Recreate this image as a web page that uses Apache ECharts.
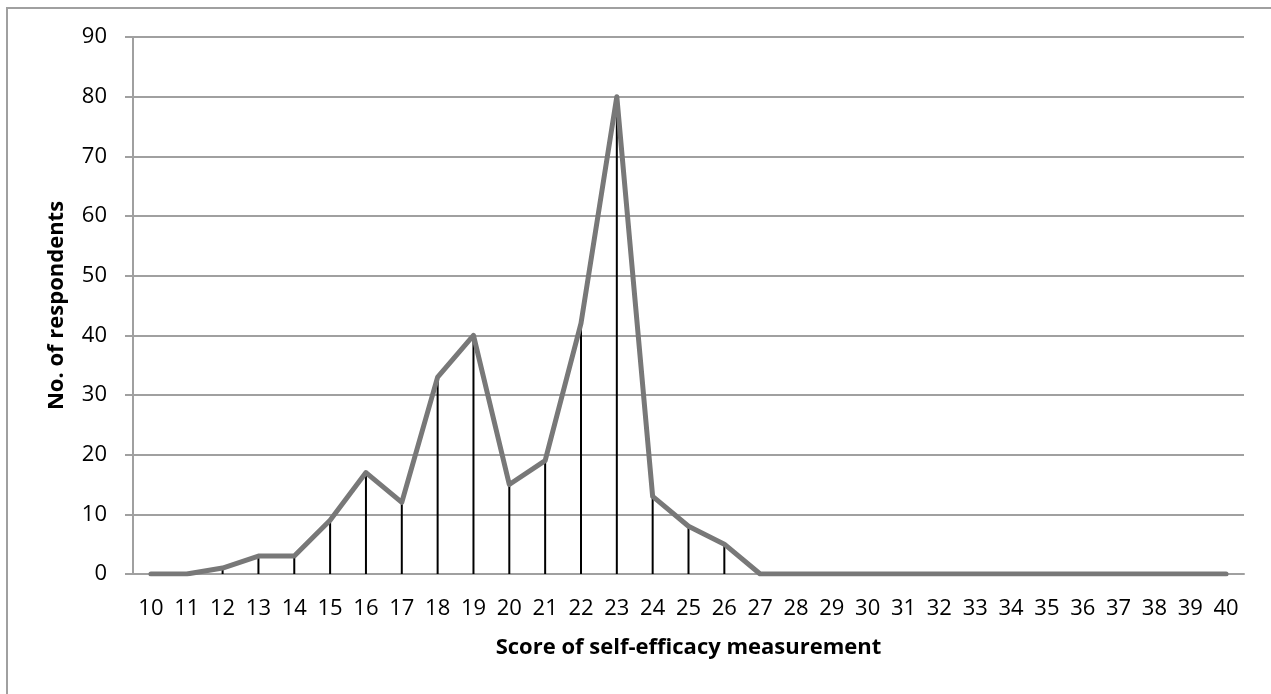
<!DOCTYPE html>
<html>
<head>
<meta charset="utf-8">
<script src="https://cdn.jsdelivr.net/npm/echarts@6/dist/echarts.min.js"></script>
<style>html,body{margin:0;padding:0;background:#fff;}#c{width:1271px;height:694px;}</style>
</head>
<body>
<div id="c"></div>
<script>
const scores = ['10','11','12','13','14','15','16','17','18','19','20','21','22','23','24','25','26','27','28','29','30','31','32','33','34','35','36','37','38','39','40'];
const respondents = [0,0,1,3,3,9,17,12,33,40,15,19,42,80,13,8,5,0,0,0,0,0,0,0,0,0,0,0,0,0,0];
const yTicks = [0,10,20,30,40,50,60,70,80,90];
const xTitle = 'Score of self-efficacy measurement';
const yTitle = 'No. of respondents';

const chart = echarts.init(document.getElementById('c'), null, {renderer:'canvas'});
const FONT = 'Open Sans';
chart.setOption({
  animation:false,
  backgroundColor:'#fff',
  graphic:[{type:'rect', shape:{x:7,y:8,width:1300,height:720}, style:{fill:'none', stroke:'#a0a0a0', lineWidth:2}, silent:true}],
  grid:{left:133, right:27, top:37, bottom:120},
  xAxis:{
    type:'category', data:scores, boundaryGap:true,
    axisLine:{lineStyle:{color:'#a0a0a0', width:2}},
    axisTick:{show:false},
    axisLabel:{color:'#000', fontFamily:FONT, fontSize:22, margin:24, interval:0},
    name:xTitle, nameLocation:'middle', nameGap:63,
    nameTextStyle:{color:'#000', fontFamily:FONT, fontWeight:'bold', fontSize:22}
  },
  yAxis:{
    type:'value', min:yTicks[0], max:yTicks[yTicks.length-1], interval:10,
    axisLine:{show:true, lineStyle:{color:'#a0a0a0', width:2}},
    axisTick:{show:true, length:8, lineStyle:{color:'#a0a0a0', width:2}},
    splitLine:{lineStyle:{color:'#a0a0a0', width:2}},
    axisLabel:{color:'#000', fontFamily:FONT, fontSize:22, margin:26},
    name:yTitle, nameLocation:'middle', nameGap:65,
    nameTextStyle:{color:'#000', fontFamily:FONT, fontWeight:'bold', fontSize:22}
  },
  series:[
    {type:'bar', data:respondents, barWidth:2, itemStyle:{color:'#000'}, z:2, silent:true},
    {type:'line', data:respondents, symbol:'none', z:3,
     lineStyle:{color:'#787878', width:5, cap:'round', join:'round'}}
  ]
});
</script>
</body>
</html>
